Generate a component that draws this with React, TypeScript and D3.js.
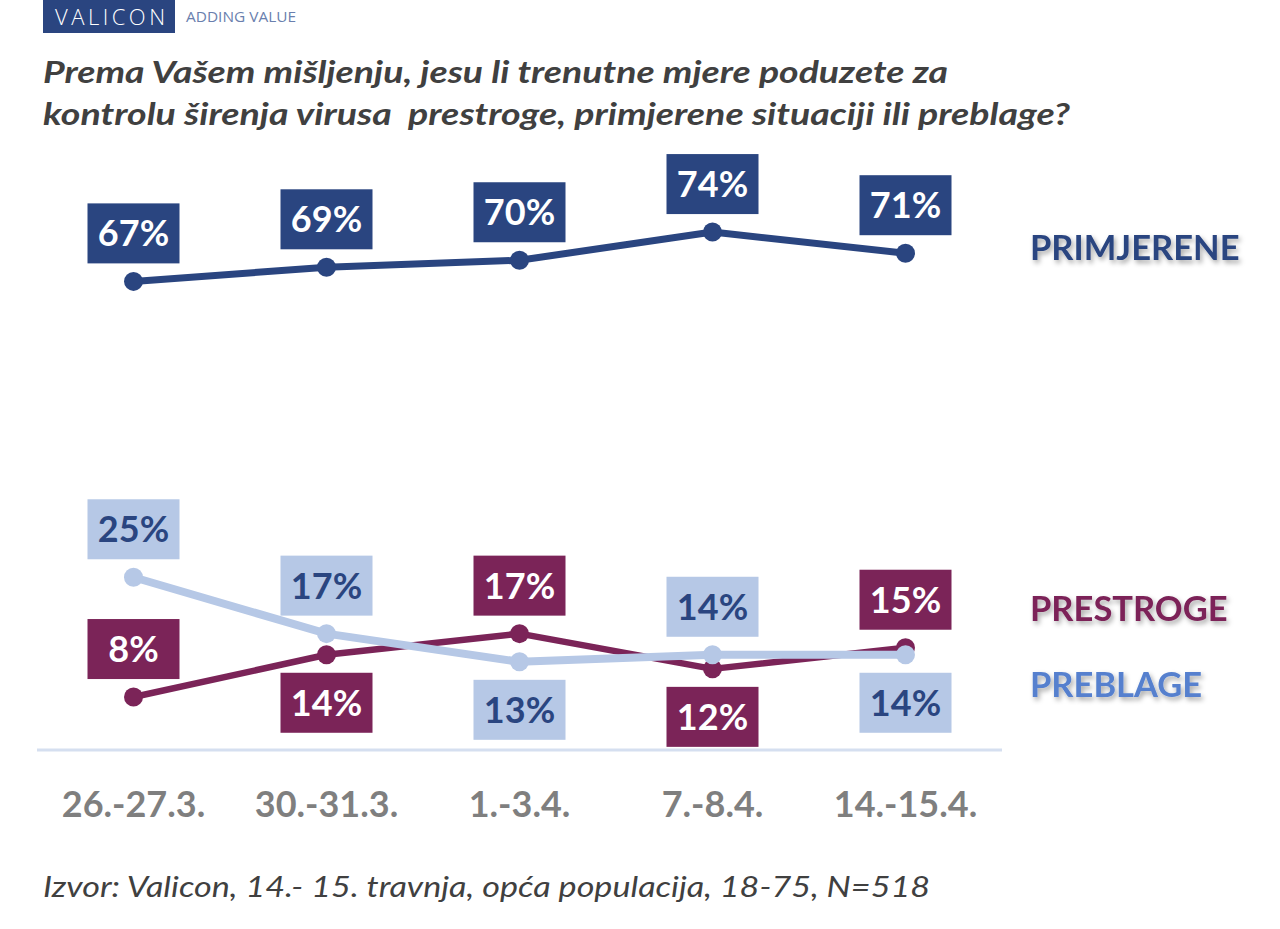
import React from "react";
import * as d3 from "d3";

const categories = ["26.-27.3.", "30.-31.3.", "1.-3.4.", "7.-8.4.", "14.-15.4."];
const primjerene = [67, 69, 70, 74, 71];
const prestroge = [8, 14, 17, 12, 15];
const preblage = [25, 17, 13, 14, 14];
// label placement: 1 = above point, -1 = below
const prestrogePos = [1, -1, 1, -1, 1];
const preblagePos = [1, 1, -1, 1, -1];
const primjerenePos = [1, 1, 1, 1, 1];

const title1 = "Prema Vašem mišljenju, jesu li trenutne mjere poduzete za";
const title2 = "kontrolu širenja virusa  prestroge, primjerene situaciji ili preblage?";
const footer = "Izvor: Valicon, 14.- 15. travnja, opća populacija, 18-75, N=518";

const NAVY = "#2A4580";
const MAROON = "#7B2458";
const LIGHT = "#B6C8E6";
const LEGEND_BLUE = "#5680CE";
const FONT = "Lato, 'Open Sans', sans-serif";

type Series = {
  name: string;
  values: number[];
  pos: number[];
  line: string;
  width: number;
  box: string;
  text: string;
  legendColor: string;
  legendY: number;
};

const series: Series[] = [
  { name: "PRIMJERENE", values: primjerene, pos: primjerenePos, line: NAVY, width: 7, box: NAVY, text: "#FFFFFF", legendColor: NAVY, legendY: 260 },
  { name: "PRESTROGE", values: prestroge, pos: prestrogePos, line: MAROON, width: 6.5, box: MAROON, text: "#FFFFFF", legendColor: MAROON, legendY: 621 },
  { name: "PREBLAGE", values: preblage, pos: preblagePos, line: LIGHT, width: 8, box: LIGHT, text: "#2A4580", legendColor: LEGEND_BLUE, legendY: 697 },
];

export default function App() {
  const W = 1280;
  const H = 929;
  const x = d3.scaleBand<string>().domain(categories).range([37, 1002]);
  const y = d3.scaleLinear().domain([0, 100]).range([753.4, 48.9]);
  const cx = (c: string) => (x(c) ?? 0) + x.bandwidth() / 2;
  const line = d3
    .line<number>()
    .x((_, i) => cx(categories[i]))
    .y((d) => y(d));

  const boxW = 92;
  const boxH = 60;
  const gap = 18;

  return (
    <svg
      width={W}
      height={H}
      style={{ position: "absolute", left: 0, top: 0, background: "#fff" }}
      fontFamily={FONT}
    >
      <defs>
        <filter id="shadow" x="-10%" y="-30%" width="130%" height="180%">
          <feDropShadow dx="2" dy="3" stdDeviation="2.5" floodColor="#000" floodOpacity="0.35" />
        </filter>
      </defs>
      <rect width={W} height={H} fill="#fff" />

      {/* logo */}
      <rect x={43} y={0} width={132} height={33} fill={NAVY} />
      <text x={110} y={25} textAnchor="middle" fill="#fff" fontSize={22} fontWeight={300} textLength={110} lengthAdjust="spacing" fontFamily="'Open Sans', sans-serif">
        VALICON
      </text>
      <text x={186} y={22} fill="#6A7FAE" fontSize={14} textLength={110} lengthAdjust="spacingAndGlyphs" fontFamily="'Open Sans', sans-serif">
        ADDING VALUE
      </text>

      {/* title */}
      <text x={43} y={83} fill="#404040" fontSize={30} fontWeight="bold" fontStyle="italic" textLength={905} lengthAdjust="spacingAndGlyphs" style={{ whiteSpace: "pre" }}>
        {title1}
      </text>
      <text x={43} y={125} fill="#404040" fontSize={30} fontWeight="bold" fontStyle="italic" textLength={1027} lengthAdjust="spacingAndGlyphs" style={{ whiteSpace: "pre" }}>
        {title2}
      </text>

      {/* axis line */}
      <line x1={37} x2={1002} y1={750} y2={750} stroke="#D5DFF0" strokeWidth={3} />

      {/* axis labels */}
      {categories.map((c) => (
        <text key={c} x={cx(c)} y={817} textAnchor="middle" fill="#7F7F7F" fontSize={36} fontWeight="bold">
          {c}
        </text>
      ))}

      {/* lines */}
      {series.map((s) => (
        <g key={s.name}>
          <path d={line(s.values) ?? ""} fill="none" stroke={s.line} strokeWidth={s.width} strokeLinejoin="round" />
          {s.values.map((v, i) => (
            <circle key={i} cx={cx(categories[i])} cy={y(v)} r={9.5} fill={s.line} />
          ))}
        </g>
      ))}

      {/* labels */}
      {series.map((s) =>
        s.values.map((v, i) => {
          const px = cx(categories[i]);
          const py = y(v);
          const top = s.pos[i] > 0 ? py - gap - boxH : py + gap;
          return (
            <g key={s.name + i}>
              <rect x={px - boxW / 2} y={top} width={boxW} height={boxH} fill={s.box} />
              <text x={px} y={top + boxH / 2 + 13} textAnchor="middle" fill={s.text} fontSize={36} fontWeight="bold">
                {v}%
              </text>
            </g>
          );
        })
      )}

      {/* legend */}
      {series.map((s) => (
        <text key={"lg" + s.name} x={1030} y={s.legendY} fill={s.legendColor} fontSize={34.5} fontWeight="bold" filter="url(#shadow)">
          {s.name}
        </text>
      ))}

      {/* footer */}
      <text x={43} y={897} fill="#404040" fontSize={28} fontStyle="italic" textLength={887} lengthAdjust="spacingAndGlyphs">
        {footer}
      </text>
    </svg>
  );
}
